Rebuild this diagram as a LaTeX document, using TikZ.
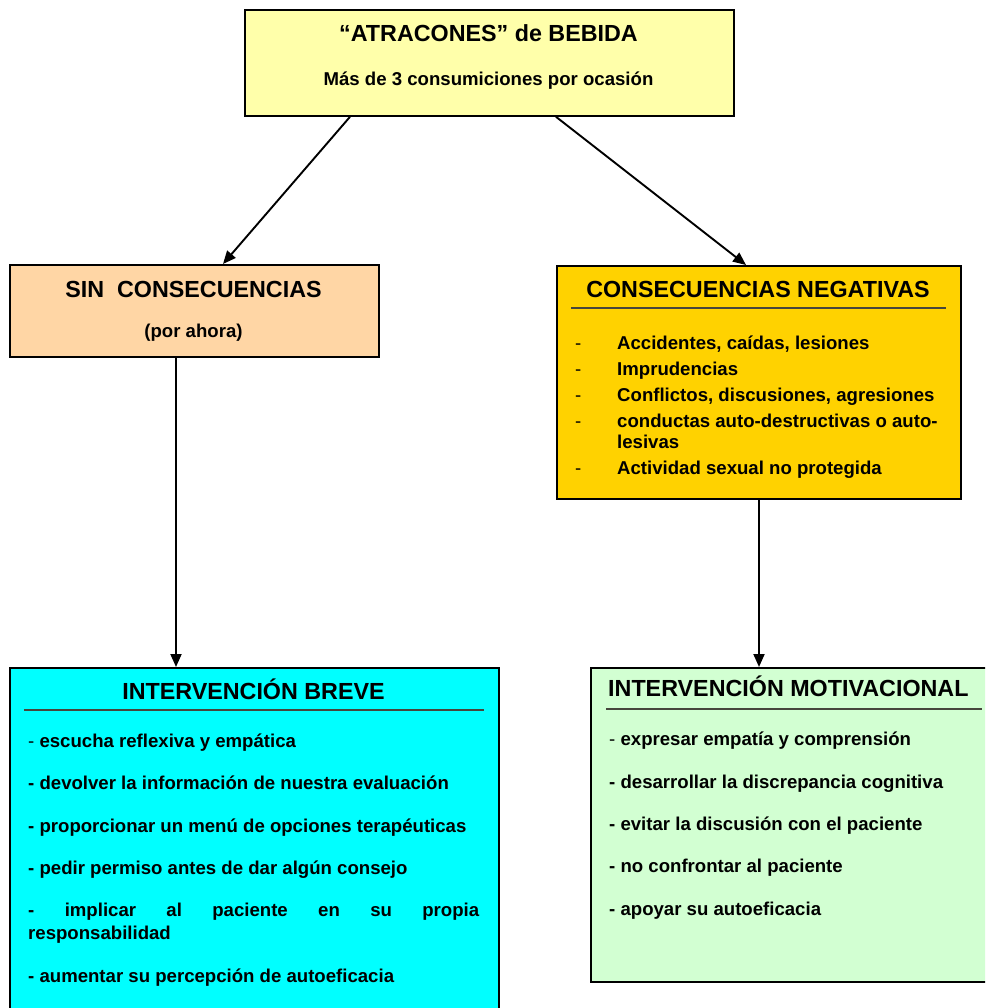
\documentclass[tikz,border=0pt]{standalone}
\usepackage{fontspec}
\setmainfont{Liberation Sans}
\usetikzlibrary{arrows.meta}
\definecolor{cTop}{RGB}{255,255,170}
\definecolor{cSin}{RGB}{255,214,165}
\definecolor{cNeg}{RGB}{255,210,0}
\definecolor{cBreve}{RGB}{0,255,255}
\definecolor{cMot}{RGB}{210,255,210}
\definecolor{cRule}{RGB}{70,70,60}
\begin{document}
\begin{tikzpicture}[x=1pt,y=-1pt,
  box/.style={draw=black, line width=1.8pt, rectangle, inner sep=0pt, anchor=north west},
  hd/.style={font=\fontsize{23.3}{27}\bfseries\selectfont, anchor=base, inner sep=0pt},
  sub/.style={font=\fontsize{18.6}{22}\bfseries\selectfont, anchor=base, inner sep=0pt},
  tx/.style={font=\fontsize{18.6}{23}\bfseries\selectfont, anchor=base west, inner sep=0pt},
  rulel/.style={draw=cRule, line width=2.4pt},
  arr/.style={line width=1.9pt, -{Triangle[length=13pt,width=11pt]}}]
\useasboundingbox (0,0) rectangle (985,1008);
\clip (0,0) rectangle (985,1008);

% boxes
\node[box, fill=cTop, minimum width=489pt, minimum height=106pt] (top) at (244,9) {};
\node[box, fill=cSin, minimum width=369pt, minimum height=92pt] (sin) at (9,264) {};
\node[box, fill=cNeg, minimum width=404pt, minimum height=233pt] (neg) at (556,265) {};
\node[box, fill=cBreve, minimum width=489pt, minimum height=380pt] (breve) at (9,667) {};
\node[box, fill=cMot, minimum width=420pt, minimum height=314pt] (mot) at (590,667) {};

% top texts
\node[hd] (t1) at (488.5,42) {“ATRACONES” de BEBIDA};
\node[sub] (t2) at (488.5,86) {Más de 3 consumiciones por ocasión};

% sin consecuencias
\node[hd] (s1) at (193.5,297) {SIN\ \ CONSECUENCIAS};
\node[sub] (s2) at (193.5,337) {(por ahora)};

% consecuencias negativas
\node[hd] (n0) at (758,297) {CONSECUENCIAS NEGATIVAS};
\draw[rulel] (571,308) -- (946,308);
\foreach \y/\t [count=\i] in {349/{Accidentes, caídas, lesiones},375/Imprudencias,401/{Conflictos, discusiones, agresiones},427/{conductas auto-destructivas o auto-},474/{Actividad sexual no protegida}}{
  \node[tx, font=\fontsize{18.6}{23}\mdseries\selectfont] (nd\i) at (575,\y) {-};
  \node[tx] (n\i) at (617,\y) {\t};
}
\node[tx] (n6) at (617,448) {lesivas};

% intervencion breve
\node[hd] (b0) at (253.5,699) {INTERVENCIÓN BREVE};
\draw[rulel] (24,710) -- (484,710);
\node[tx] (b1) at (28,747) {{\mdseries -} escucha reflexiva y empática};
\node[tx] (b2) at (28,789) {- devolver la información de nuestra evaluación};
\node[tx] (b3) at (28,832) {- proporcionar un menú de opciones terapéuticas};
\node[tx] (b4) at (28,874) {- pedir permiso antes de dar algún consejo};
\node[tx] (b5) at (28,916) {\hbox to 451pt{-\hfill implicar\hfill al\hfill paciente\hfill en\hfill su\hfill propia}};
\node[tx] (b6) at (28,939) {responsabilidad};
\node[tx] (b7) at (28,982) {- aumentar su percepción de autoeficacia};

% intervencion motivacional
\node[hd, anchor=base west] (m0) at (608,696) {INTERVENCIÓN MOTIVACIONAL};
\draw[rulel] (606,709) -- (982,709);
\node[tx] (m1) at (609,745) {{\mdseries -} expresar empatía y comprensión};
\node[tx] (m2) at (609,788) {- desarrollar la discrepancia cognitiva};
\node[tx] (m3) at (609,830) {- evitar la discusión con el paciente};
\node[tx] (m4) at (609,872) {- no confrontar al paciente};
\node[tx] (m5) at (609,915) {- apoyar su autoeficacia};

% connectors
\draw[arr] ([xshift=106pt]top.south west) -- ([xshift=214pt]sin.north west);
\draw[arr] ([xshift=312pt]top.south west) -- ([xshift=190pt]neg.north west);
\draw[arr] ([xshift=167pt]sin.south west) -- ([xshift=167pt]breve.north west);
\draw[arr] ([xshift=203pt]neg.south west) -- ([xshift=169pt]mot.north west);
\end{tikzpicture}
\end{document}
